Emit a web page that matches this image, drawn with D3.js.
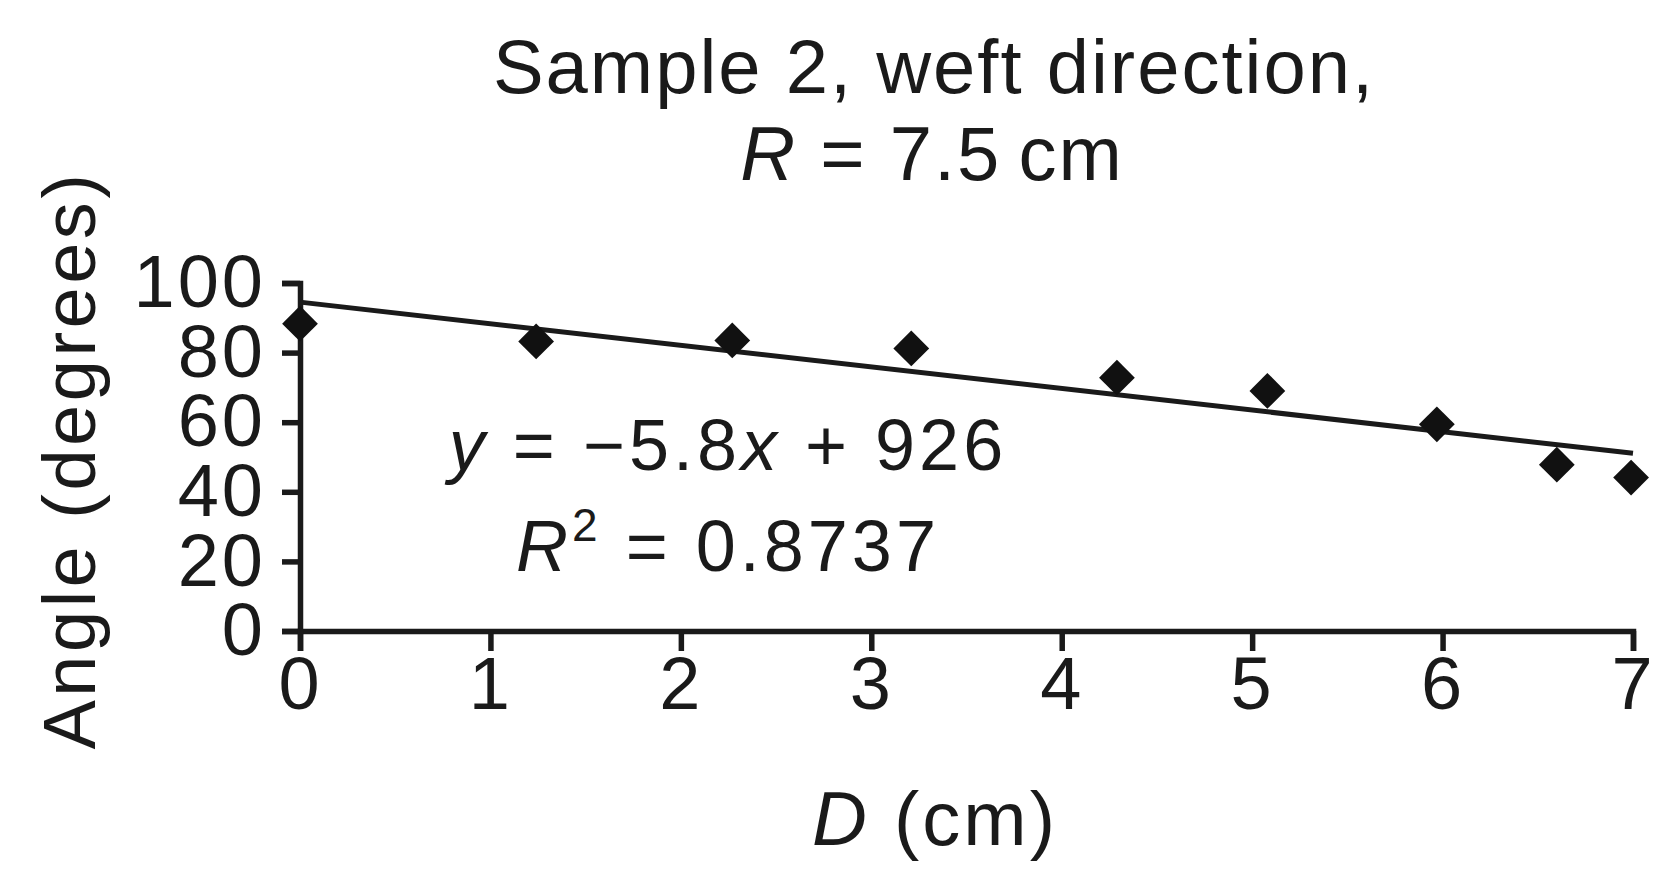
<!DOCTYPE html>
<html>
<head>
<meta charset="utf-8">
<script src="https://cdn.jsdelivr.net/npm/d3@7"></script>
<style>
  body { margin: 0; background: #fff; }
  text { font-family: "Liberation Sans", Arial, sans-serif; fill: #1a1a1a; }
  .axis path, .axis line { stroke: #1a1a1a; stroke-width: 5.5; }
  .axis text { font-size: 74px; letter-spacing: 3px; }
</style>
</head>
<body>
<svg width="1657" height="872"></svg>
<script>
  // distance from centre (cm) and measured angle (degrees)
  const distance = [0, 1.24, 2.27, 3.21, 4.29, 5.08, 5.97, 6.60, 6.99];
  const angle = [88.3, 83.2, 83.5, 81.2, 72.8, 69.0, 59.4, 47.8, 44.1];
  const xTicks = [0, 1, 2, 3, 4, 5, 6, 7];
  const yTicks = [0, 20, 40, 60, 80, 100];
  const rSquared = '0.8737';

  const data = distance.map((d, i) => ({ x: d, y: angle[i] }));

  const svg = d3.select('svg');
  const margin = { top: 283, left: 300 };
  const innerWidth = 1333;
  const innerHeight = 348;

  const xScale = d3.scaleLinear().domain([0, 7]).range([0, innerWidth]);
  const yScale = d3.scaleLinear().domain([0, 100]).range([innerHeight, 0]);

  const g = svg.append('g')
    .attr('transform', `translate(${margin.left},${margin.top})`);

  // title
  const title = svg.append('text')
    .attr('text-anchor', 'middle')
    .style('font-size', '76px')
    .style('letter-spacing', '2px');
  title.append('tspan').attr('x', 934).attr('y', 93).text('Sample 2, weft direction,');
  const t2 = title.append('tspan').attr('x', 932).attr('y', 180);
  t2.append('tspan').style('font-style', 'italic').text('R');
  t2.append('tspan').text(' = 7.5\u2009cm');

  // axes
  g.append('g').attr('class', 'axis')
    .call(d3.axisLeft(yScale).tickValues(yTicks).tickSize(18).tickPadding(16));

  const xAxisG = g.append('g').attr('class', 'axis')
    .attr('transform', `translate(0,${innerHeight})`)
    .call(d3.axisBottom(xScale).tickValues(xTicks).tickFormat(d3.format('d'))
      .tickSize(20).tickPadding(5));
  xAxisG.selectAll('text').attr('dy', '0.71em');

  // linear trend (least squares)
  const mx = d3.mean(data, d => d.x);
  const my = d3.mean(data, d => d.y);
  const slope = d3.sum(data, d => (d.x - mx) * (d.y - my)) / d3.sum(data, d => (d.x - mx) ** 2);
  const intercept = my - slope * mx;
  const trend = [0, 7].map(x => ({ x, y: intercept + slope * x }));

  g.append('path')
    .datum(trend)
    .attr('fill', 'none')
    .attr('stroke', '#1a1a1a')
    .attr('stroke-width', 5)
    .attr('d', d3.line().x(d => xScale(d.x)).y(d => yScale(d.y)));

  // diamond markers
  g.selectAll('.pt').data(data).enter().append('path')
    .attr('class', 'pt')
    .attr('fill', '#111')
    .attr('d', d3.symbol().type(d3.symbolSquare).size(640))
    .attr('transform', d => `translate(${xScale(d.x)},${yScale(d.y)}) rotate(45)`);

  // equation
  const eq = svg.append('text')
    .attr('text-anchor', 'middle')
    .style('font-size', '72px')
    .style('letter-spacing', '4px');
  const l1 = eq.append('tspan').attr('x', 728).attr('y', 470);
  l1.append('tspan').style('font-style', 'italic').text('y');
  l1.append('tspan').text(' = \u22125.8');
  l1.append('tspan').style('font-style', 'italic').text('x');
  l1.append('tspan').text(' + 926');
  const l2 = eq.append('tspan').attr('x', 728).attr('y', 571);
  l2.append('tspan').style('font-style', 'italic').text('R');
  l2.append('tspan').attr('dy', -30).style('font-size', '46px').text('2');
  l2.append('tspan').attr('dy', 30).text(' = ' + rSquared);

  // axis titles
  svg.append('text')
    .attr('transform', 'translate(95,460) rotate(-90)')
    .attr('text-anchor', 'middle')
    .style('font-size', '74px')
    .style('letter-spacing', '3.5px')
    .text('Angle  (degrees)');

  const xt = svg.append('text')
    .attr('x', 935).attr('y', 845)
    .attr('text-anchor', 'middle')
    .style('font-size', '76px')
    .style('letter-spacing', '3px');
  xt.append('tspan').style('font-style', 'italic').text('D');
  xt.append('tspan').text(' (cm)');
</script>
</body>
</html>
